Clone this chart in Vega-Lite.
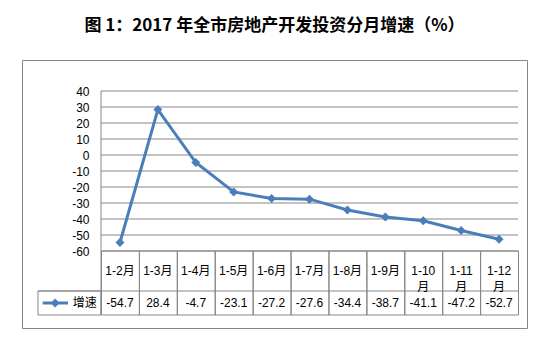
{
  "$schema": "https://vega.github.io/schema/vega-lite/v6.json",
  "width": 505,
  "height": 268,
  "autosize": "none",
  "padding": {"left": 22, "top": 60, "right": 22, "bottom": 18},
  "background": "white",
  "config": {
    "locale": {"number": {"decimal": ".", "thousands": ",", "grouping": [3], "currency": ["$", ""], "minus": "-"}},
    "view": {"stroke": "#868686", "strokeWidth": 1},
    "font": "Liberation Sans, Noto Sans CJK SC",
    "text": {"font": "Liberation Sans, Noto Sans CJK SC", "fontSize": 12, "color": "#000000"},
    "axisY": {
      "offset": -79, "domain": false, "ticks": false, "grid": false,
      "labelPadding": 12, "labelFontSize": 12,
      "labelColor": "#000000", "labelFont": "Liberation Sans", "labelOverlap": false
    }
  },
  "title": {
    "text": "图 1：2017 年全市房地产开发投资分月增速（%）",
    "anchor": "middle",
    "font": "Noto Sans CJK SC",
    "fontSize": 17,
    "fontWeight": "bold",
    "color": "#000000",
    "baseline": "bottom",
    "offset": 8
  },
  "datasets": {
    "months": [
      {"m": 2, "label": "1-2月", "value": -54.7},
      {"m": 3, "label": "1-3月", "value": 28.4},
      {"m": 4, "label": "1-4月", "value": -4.7},
      {"m": 5, "label": "1-5月", "value": -23.1},
      {"m": 6, "label": "1-6月", "value": -27.2},
      {"m": 7, "label": "1-7月", "value": -27.6},
      {"m": 8, "label": "1-8月", "value": -34.4},
      {"m": 9, "label": "1-9月", "value": -38.7},
      {"m": 10, "label": "1-10\n月", "value": -41.1},
      {"m": 11, "label": "1-11\n月", "value": -47.2},
      {"m": 12, "label": "1-12\n月", "value": -52.7}
    ],
    "grid": [
      {"g": 40}, {"g": 30}, {"g": 20}, {"g": 10}, {"g": 0}, {"g": -10},
      {"g": -20}, {"g": -30}, {"g": -40}, {"g": -50}, {"g": -60}
    ],
    "one": [{"series": "增速"}]
  },
  "layer": [
    {
      "data": {"name": "grid"},
      "mark": {"type": "rule", "stroke": "#868686", "strokeWidth": 1},
      "encoding": {
        "x": {"datum": 1.5, "type": "quantitative", "scale": {"type": "linear", "domain": [-0.584, 12.737], "nice": false, "zero": false}, "axis": null},
        "x2": {"datum": 12.5},
        "y": {
          "field": "g", "type": "quantitative", "title": null,
          "scale": {"domain": [-108.125, 59.375], "nice": false, "zero": false},
          "axis": {"values": [40, 30, 20, 10, 0, -10, -20, -30, -40, -50, -60], "format": "d", "labelOverlap": false, "labelFlush": false, "labelBound": false, "tickCount": 20}
        }
      }
    },
    {
      "data": {"name": "months"},
      "mark": {"type": "rect", "fill": "transparent", "stroke": "#868686", "strokeWidth": 1},
      "encoding": {
        "x": {"field": "m", "type": "quantitative", "bin": {"step": 1, "anchor": 1.5, "extent": [1.5, 12.5], "nice": false}, "scale": {"type": "linear", "domain": [-0.584, 12.737], "nice": false, "zero": false}, "axis": null},
        "y": {"datum": -60, "type": "quantitative", "title": null},
        "y2": {"datum": -100}
      }
    },
    {
      "data": {"name": "one"},
      "mark": {"type": "rule", "stroke": "#868686", "strokeWidth": 1},
      "encoding": {
        "x": {"datum": -0.162, "type": "quantitative", "axis": null},
        "x2": {"datum": 12.5},
        "y": {"datum": -85, "type": "quantitative", "title": null}
      }
    },
    {
      "data": {"name": "one"},
      "mark": {"type": "rect", "fill": "transparent", "stroke": "#868686", "strokeWidth": 1},
      "encoding": {
        "x": {"datum": -0.162, "type": "quantitative", "axis": null},
        "x2": {"datum": 1.5},
        "y": {"datum": -85, "type": "quantitative", "title": null},
        "y2": {"datum": -100}
      }
    },
    {
      "data": {"name": "one"},
      "mark": {"type": "rule", "stroke": "#868686", "strokeWidth": 1},
      "encoding": {
        "x": {"datum": 1.5, "type": "quantitative", "axis": null},
        "y": {"datum": 40, "type": "quantitative", "title": null},
        "y2": {"datum": -100}
      }
    },
    {
      "data": {"name": "months"},
      "mark": {"type": "line", "color": "#4A7EBB", "strokeWidth": 3},
      "encoding": {
        "x": {"field": "m", "type": "quantitative", "axis": null},
        "y": {"field": "value", "type": "quantitative", "title": null}
      }
    },
    {
      "data": {"name": "months"},
      "mark": {"type": "point", "shape": "diamond", "filled": true, "size": 80, "color": "#4A7EBB", "opacity": 1},
      "encoding": {
        "x": {"field": "m", "type": "quantitative", "axis": null},
        "y": {"field": "value", "type": "quantitative", "title": null}
      }
    },
    {
      "data": {"name": "months"},
      "mark": {"type": "text", "lineBreak": "\n", "lineHeight": 16, "baseline": "middle", "align": "center"},
      "encoding": {
        "x": {"field": "m", "type": "quantitative", "axis": null},
        "y": {"datum": -72.5, "type": "quantitative", "title": null},
        "text": {"field": "label"}
      }
    },
    {
      "data": {"name": "months"},
      "mark": {"type": "text", "baseline": "middle", "align": "center"},
      "encoding": {
        "x": {"field": "m", "type": "quantitative", "axis": null},
        "y": {"datum": -92.5, "type": "quantitative", "title": null},
        "text": {"field": "value", "format": ".1f"}
      }
    },
    {
      "data": {"name": "one"},
      "mark": {"type": "rule", "stroke": "#4A7EBB", "strokeWidth": 3},
      "encoding": {
        "x": {"datum": -0.04, "type": "quantitative", "axis": null},
        "x2": {"datum": 0.63},
        "y": {"datum": -92.5, "type": "quantitative", "title": null}
      }
    },
    {
      "data": {"name": "one"},
      "mark": {"type": "point", "shape": "diamond", "filled": true, "size": 80, "color": "#4A7EBB", "opacity": 1},
      "encoding": {
        "x": {"datum": 0.29, "type": "quantitative", "axis": null},
        "y": {"datum": -92.5, "type": "quantitative", "title": null}
      }
    },
    {
      "data": {"name": "one"},
      "mark": {"type": "text", "baseline": "middle", "align": "center", "fontSize": 12},
      "encoding": {
        "x": {"datum": 1.07, "type": "quantitative", "axis": null},
        "y": {"datum": -92.5, "type": "quantitative", "title": null},
        "text": {"field": "series"}
      }
    }
  ]
}
